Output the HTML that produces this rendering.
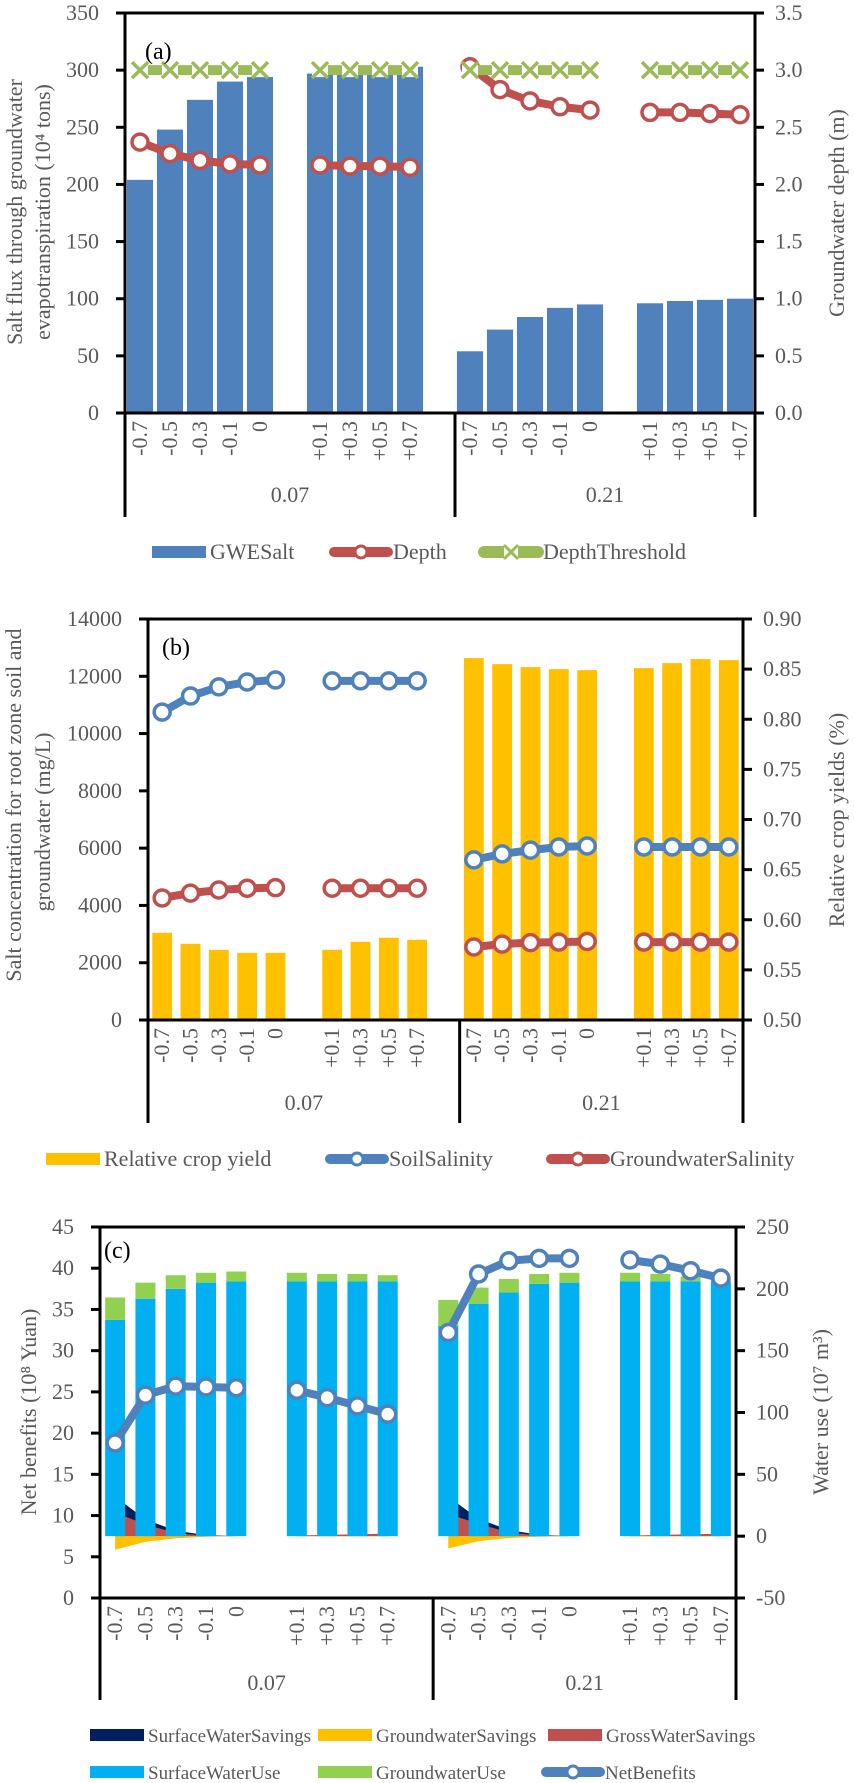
<!DOCTYPE html>
<html><head><meta charset="utf-8"><title>Salt, crop yield and water use charts</title>
<style>
html,body{margin:0;padding:0;background:#fff;}
svg{display:block;font-family:"Liberation Serif",serif;}
</style></head>
<body>
<svg id="fig" width="854" height="1783" viewBox="0 0 854 1783" xmlns="http://www.w3.org/2000/svg"></svg>
<script>
const cats = ['-0.7','-0.5','-0.3','-0.1','0','+0.1','+0.3','+0.5','+0.7'];
const groups = ['0.07','0.21'];
// panel (a)
const gweSalt = [204,248,274,290,294,297,297,297,303, 54,73,84,92,95,96,98,99,100];
const depth = [2.37,2.27,2.21,2.18,2.17,2.17,2.16,2.16,2.15, 3.03,2.83,2.73,2.68,2.65,2.63,2.63,2.62,2.61];
const depthThreshold = [3,3,3,3,3,3,3,3,3, 3,3,3,3,3,3,3,3,3];
const ticksA_L = ['0','50','100','150','200','250','300','350'];
const ticksA_R = ['0.0','0.5','1.0','1.5','2.0','2.5','3.0','3.5'];
// panel (b)
const cropYield = [0.587,0.576,0.570,0.567,0.567,0.570,0.578,0.582,0.580, 0.861,0.855,0.852,0.850,0.849,0.851,0.856,0.860,0.859];
const soilSalinity = [10750,11310,11630,11800,11870,11840,11840,11840,11840, 5590,5800,5930,6040,6075,6040,6040,6040,6040];
const gwSalinity = [4260,4430,4540,4600,4620,4600,4600,4600,4600, 2550,2650,2700,2720,2740,2720,2720,2720,2720];
const ticksB_L = ['0','2000','4000','6000','8000','10000','12000','14000'];
const ticksB_R = ['0.50','0.55','0.60','0.65','0.70','0.75','0.80','0.85','0.90'];
// panel (c)
const surfaceUse = [175,192,200,205,206,206,206,206,206, 170,188,197,204,205,206,206,206,206];
const groundUse = [18,13,11,8,8,7,6,6,5, 21,13,11,8,8,7,6,4,2];
const netBenefits = [18.8,24.6,25.7,25.6,25.5,25.2,24.3,23.3,22.3, 32.2,39.3,40.9,41.2,41.2,41.0,40.5,39.7,38.8];
const surfSavings = [32,13.5,4.5,0.8,0,0,0,0,0, 32,14,5,1,0,0,0,0,0];
const gwSavings = [-11,-4.5,-1.8,-0.5,0,-0.2,-0.3,-0.3,-0.3, -10,-4,-1.5,-0.5,0,-0.3,-0.3,-0.3,-0.3];
const grossSavings = [19,9.5,2.5,0.3,0,0.5,1,1.5,2, 18,10,3,0.5,0,0.5,1,1.5,2];
const ticksC_L = ['0','5','10','15','20','25','30','35','40','45'];
const ticksC_R = ['-50','0','50','100','150','200','250'];

const NS = 'http://www.w3.org/2000/svg';
const svg = document.getElementById('fig');
const GRAY = '#595959';
function mk(tag, attrs, parent) {
  const e = document.createElementNS(NS, tag);
  for (const k in attrs) e.setAttribute(k, attrs[k]);
  (parent || svg).appendChild(e);
  return e;
}
function yL(p, v) { return p.bottom - (v - p.lmin) / (p.lmax - p.lmin) * (p.bottom - p.top); }
function yR(p, v) { return p.bottom - (v - p.rmin) / (p.rmax - p.rmin) * (p.bottom - p.top); }
function slotW(p) { return (p.right - p.left) / 21; }
function cx(p, k) { const g = Math.floor(k / 9), i = k % 9; return p.left + (g * 11 + (i < 5 ? i : i + 1) + 0.5) * slotW(p); }
const subgroups = [[0,1,2,3,4],[5,6,7,8],[9,10,11,12,13],[14,15,16,17]];

function frame(p, ticksL, ticksR, lblL, lblR, gy, dy, name) {
  const g = mk('g', {});
  
  
  const st = {stroke:'#000','stroke-width':3};
  const top = mk('line', Object.assign({x1:p.left,y1:p.top,x2:p.right,y2:p.top}, st), g);
  
  
  const la = mk('line', Object.assign({x1:p.left,y1:p.top,x2:p.left,y2:dy}, st), g);
  
  
  const ra = mk('line', Object.assign({x1:p.right,y1:p.top,x2:p.right,y2:dy}, st), g);
  
  
  const xa = mk('line', Object.assign({x1:p.left-8,y1:p.bottom,x2:p.right,y2:p.bottom}, st), g);
  
  
  const mid = p.left + 11 * slotW(p);
  const dv = mk('line', Object.assign({x1:mid,y1:p.bottom,x2:mid,y2:dy}, st), g);
  
  
  ticksL.forEach((t, i) => {
    const y = p.top + (p.bottom - p.top) * (1 - i / (ticksL.length - 1));
    mk('line', Object.assign({x1:p.left-9,y1:y,x2:p.left,y2:y}, st), g);
    const tx = mk('text', {x:p.left-26,y:y+7,'text-anchor':'end','font-size':22,fill:GRAY}, g);
    
    
    tx.textContent = t;
  });
  ticksR.forEach((t, i) => {
    const y = p.top + (p.bottom - p.top) * (1 - i / (ticksR.length - 1));
    mk('line', Object.assign({x1:p.right,y1:y,x2:p.right+9,y2:y}, st), g);
    const tx = mk('text', {x:p.right+20,y:y+7,'text-anchor':'start','font-size':22,fill:GRAY}, g);
    
    
    tx.textContent = t;
  });
  for (let k = 0; k < 18; k++) {
    const x = cx(p, k);
    const tx = mk('text', {x:0,y:0,'text-anchor':'end','font-size':22,fill:GRAY,transform:`translate(${x+7},${p.bottom+8}) rotate(-90)`}, g);
    
    
    tx.textContent = cats[k % 9];
  }
  groups.forEach((gl, i) => {
    const x = p.left + (i * 11 + (i === 0 ? 5.5 : 5)) * slotW(p);
    const tx = mk('text', {x:x,y:gy+8,'text-anchor':'middle','font-size':22,fill:GRAY}, g);
    
    
    tx.textContent = gl;
  });
  lblL.forEach(l => {
    const tx = mk('text', {x:0,y:0,'text-anchor':'middle','font-size':22,fill:GRAY,transform:`translate(${l[0]+7},${l[1]}) rotate(-90)`}, g);
    
    
    tx.textContent = l[2];
  });
  const tr = mk('text', {x:0,y:0,'text-anchor':'middle','font-size':22,fill:GRAY,transform:`translate(${lblR[0]+7},${lblR[1]}) rotate(-90)`}, g);
  
  
  tr.textContent = lblR[2];
}
// draws bars from value 'lo' (number or array) up to lo+v
function bars(p, vals, lo, side, frac, color, name) {
  const w = slotW(p) * frac;
  const f = side === 'L' ? yL : yR;
  vals.forEach((v, k) => {
    const b0 = Array.isArray(lo) ? lo[k] : 0;
    const yTop = f(p, b0 + v);
    const yBot = Array.isArray(lo) ? f(p, lo[k]) : f(p, lo);
    const r = mk('rect', {x:cx(p,k)-w/2,y:Math.min(yTop,yBot),width:w,height:Math.abs(yBot-yTop),fill:color});
    
    
  });
}
function series(p, vals, side, color, marker, name) {
  const f = side === 'L' ? yL : yR;
  subgroups.forEach(sg => {
    const pts = sg.map(k => cx(p,k) + ',' + f(p, vals[k])).join(' ');
    const pl = mk('polyline', {points:pts,fill:'none',stroke:color,'stroke-width':marker==='x'?10:8,'stroke-linejoin':'round'});
    
    
    sg.forEach(k => {
      const x = cx(p,k), y = f(p, vals[k]);
      if (marker === 'x') {
        const g = mk('g', {});
        
        
        mk('rect', {x:x-8,y:y-7,width:16,height:14,fill:'#fff'}, g);
        mk('path', {d:`M${x-8},${y-8}L${x+8},${y+8}M${x-8},${y+8}L${x+8},${y-8}`,stroke:color,'stroke-width':3.5}, g);
      } else {
        const c = mk('circle', {cx:x,cy:y,r:8,fill:'#fff',stroke:color,'stroke-width':3.5});
        
        
      }
    });
  });
}
function area(p, vals, color, name) {
  subgroups.forEach(sg => {
    let d = `M${cx(p,sg[0])},${yR(p,0)}`;
    sg.forEach(k => { d += `L${cx(p,k)},${yR(p,vals[k])}`; });
    d += `L${cx(p,sg[sg.length-1])},${yR(p,0)}Z`;
    const a = mk('path', {d:d,fill:color});
    
    
  });
}
function legendItem(x, y, type, color, label, name, fs) {
  const g = mk('g', {});
  
  
  if (type === 'bar') mk('rect', {x:x,y:y-6,width:54,height:12,fill:color}, g);
  else {
    mk('line', {x1:x+4,y1:y,x2:x+58,y2:y,stroke:color,'stroke-width':type==='x'?12:10,'stroke-linecap':'round'}, g);
    if (type === 'x') {
      mk('rect', {x:x+24,y:y-7,width:14,height:14,fill:'#fff'}, g);
      mk('path', {d:`M${x+24},${y-7}L${x+38},${y+7}M${x+24},${y+7}L${x+38},${y-7}`,stroke:color,'stroke-width':3}, g);
    } else mk('circle', {cx:x+31,cy:y,r:6,fill:'#fff',stroke:color,'stroke-width':3}, g);
  }
  const t = mk('text', {x:x+(type==='bar'?58:63),y:y+7,'font-size':fs,fill:GRAY}, g);
  t.textContent = label;
}
function panelLabel(x, y, s) {
  const t = mk('text', {x:x,y:y,'font-size':24,fill:'#000'});
  
  
  t.textContent = s;
}

// ---- Panel A
const PA = {left:125,right:755,top:13,bottom:413,lmin:0,lmax:350,rmin:0,rmax:3.5};
bars(PA, gweSalt, 0, 'L', 0.87, '#4f81bd', 'gwesalt-bar');
series(PA, depth, 'R', '#c0504d', 'o', 'depth');
series(PA, depthThreshold, 'R', '#9bbb59', 'x', 'depth-threshold');
frame(PA, ticksA_L, ticksA_R, [[15,212,'Salt flux through groundwater'],[43,212,'evapotranspiration (10⁴ tons)']], [837,213,'Groundwater depth (m)'], 494, 517, 'panel-a');
panelLabel(145, 59, '(a)');
legendItem(152, 552, 'bar', '#4f81bd', 'GWESalt', 'legend-gwesalt', 22);
legendItem(330, 552, 'o', '#c0504d', 'Depth', 'legend-depth', 22);
legendItem(480, 552, 'x', '#9bbb59', 'DepthThreshold', 'legend-depth-threshold', 22);

// ---- Panel B
const PB = {left:148,right:743,top:619,bottom:1020,lmin:0,lmax:14000,rmin:0.5,rmax:0.9};
bars(PB, cropYield, 0.5, 'R', 0.7, '#ffc000', 'crop-yield-bar');
series(PB, soilSalinity, 'L', '#4f81bd', 'o', 'soil-salinity');
series(PB, gwSalinity, 'L', '#c0504d', 'o', 'groundwater-salinity');
frame(PB, ticksB_L, ticksB_R, [[14,805,'Salt concentration for root zone soil and'],[43,822,'groundwater  (mg/L)']], [837,820,'Relative crop yields (%)'], 1102, 1123, 'panel-b');
panelLabel(162, 655, '(b)');
legendItem(46, 1159, 'bar', '#ffc000', 'Relative crop yield', 'legend-crop-yield', 22);
legendItem(326, 1159, 'o', '#4f81bd', 'SoilSalinity', 'legend-soil-salinity', 22);
legendItem(547, 1159, 'o', '#c0504d', 'GroundwaterSalinity', 'legend-groundwater-salinity', 22);

// ---- Panel C
const PC = {left:100,right:736,top:1227,bottom:1598,lmin:0,lmax:45,rmin:-50,rmax:250};
area(PC, surfSavings, '#002060', 'surface-water-savings-area');
area(PC, grossSavings, '#c0504d', 'gross-water-savings-area');
area(PC, gwSavings, '#ffc000', 'groundwater-savings-area');
bars(PC, surfaceUse, 0, 'R', 0.66, '#00b0f0', 'surface-water-use-bar');
bars(PC, groundUse, surfaceUse, 'R', 0.66, '#92d050', 'groundwater-use-bar');
series(PC, netBenefits, 'L', '#4f81bd', 'o', 'net-benefits');
frame(PC, ticksC_L, ticksC_R, [[29,1412,'Net benefits (10⁸ Yuan)']], [821,1412,'Water use (10⁷ m³)'], 1682, 1700, 'panel-c');
panelLabel(104, 1258, '(c)');
legendItem(90, 1735, 'bar', '#002060', 'SurfaceWaterSavings', 'legend-surface-water-savings', 19);
legendItem(318, 1735, 'bar', '#ffc000', 'GroundwaterSavings', 'legend-groundwater-savings', 19);
legendItem(548, 1735, 'bar', '#c0504d', 'GrossWaterSavings', 'legend-gross-water-savings', 19);
legendItem(90, 1772, 'bar', '#00b0f0', 'SurfaceWaterUse', 'legend-surface-water-use', 19);
legendItem(318, 1772, 'bar', '#92d050', 'GroundwaterUse', 'legend-groundwater-use', 19);
legendItem(542, 1772, 'o', '#4f81bd', 'NetBenefits', 'legend-net-benefits', 19);
</script>
</body></html>
